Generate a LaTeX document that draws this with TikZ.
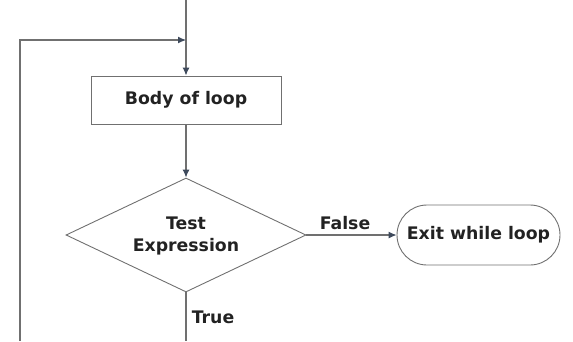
\documentclass[tikz,border=0pt]{standalone}
\usepackage{fontspec}
\setmainfont{DejaVu Sans}
\usetikzlibrary{arrows.meta,shapes.geometric}
\definecolor{linec}{HTML}{707070}
\definecolor{tipc}{HTML}{3E4A5C}
\definecolor{txtc}{HTML}{222222}
\begin{document}
\begin{tikzpicture}[x=1pt,y=-1pt,
  conn/.style={draw=linec,line width=1.1pt},
  arr/.style={conn,-{Latex[length=8pt,width=7pt,color=tipc]}},
  lbl/.style={font=\fontsize{17.3}{22}\selectfont\bfseries,text=txtc,align=center,inner sep=0pt},
  procbox/.style={draw=linec,line width=0.9pt,minimum width=190pt,minimum height=48pt,lbl},
  decis/.style={draw=linec,line width=0.9pt,diamond,minimum width=240pt,minimum height=114pt,inner sep=0pt,lbl,aspect=2.1},
  term/.style={draw=linec,line width=0.9pt,rounded corners=30pt,minimum width=163pt,minimum height=60pt,lbl}]
\useasboundingbox (0,0) rectangle (573,341);
\coordinate (top) at (186,0);
\node[procbox] (body) at (186,100) {Body of loop};
\node[decis] (test) at (186,235) {};
\node[lbl] (testtxt) at (186,236) {Test\\Expression};
\node[term] (exit) at (478.5,235) {Exit while loop};
\coordinate (join) at (186,40);
\coordinate (bot) at (186,341);
\coordinate (lbot) at (20,341);
\coordinate (ltop) at (20,40);
\draw[arr] (top) -- (body.north);
\draw[arr] (lbot) -- (ltop) -- (join);
\draw[arr] (body.south) -- (test.north);
\draw[arr] (test.east) -- (exit.west);
\draw[conn] (test.south) -- (bot);
\node[lbl] (false) at (345,223) {False};
\node[lbl] (true) at (213,317) {True};
\end{tikzpicture}
\end{document}
